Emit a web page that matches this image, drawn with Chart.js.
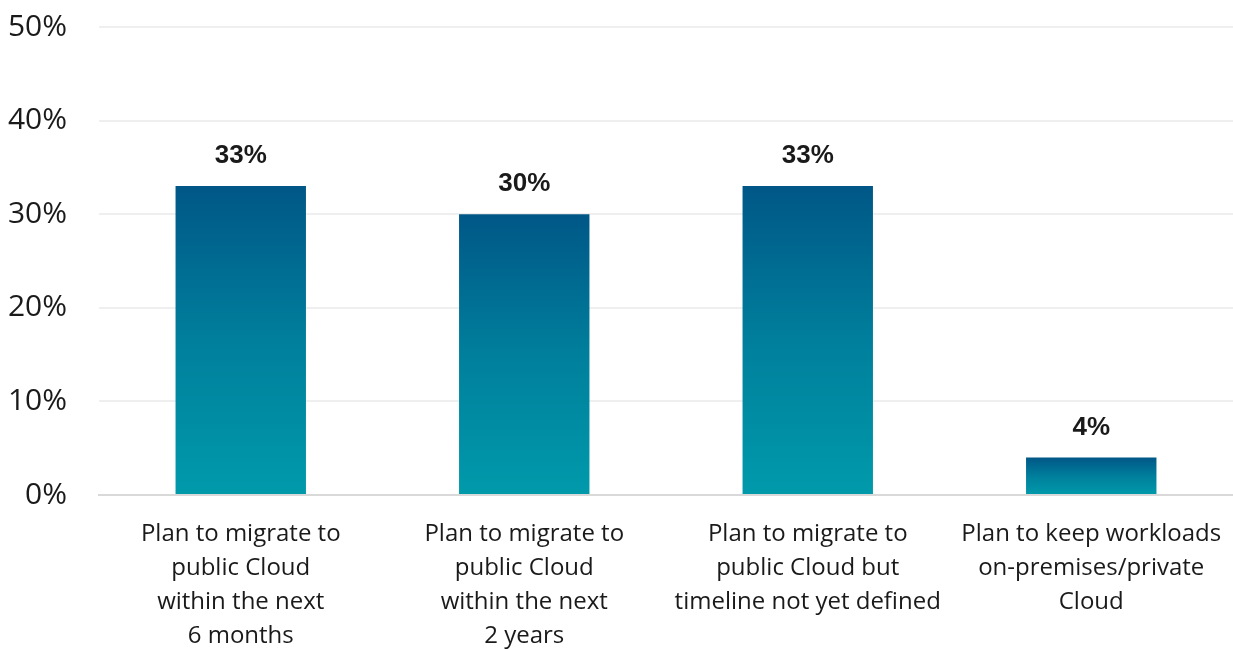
<!DOCTYPE html>
<html>
<head>
<meta charset="utf-8">
<script src="https://cdn.jsdelivr.net/npm/chart.js@4.4.1/dist/chart.umd.min.js"></script>
<style>
  html, body { margin: 0; padding: 0; background: #fff; }
  #wrap { width: 1233px; height: 649px; }
</style>
</head>
<body>
<div id="wrap"><canvas id="chart"></canvas></div>
<script>
const categories = [
  ["Plan to migrate to", "public Cloud", "within the next", "6 months"],
  ["Plan to migrate to", "public Cloud", "within the next", "2 years"],
  ["Plan to migrate to", "public Cloud but", "timeline not yet defined"],
  ["Plan to keep workloads", "on-premises/private", "Cloud"]
];
const shares = [33, 30, 33, 4];
const yTicks = [0, 10, 20, 30, 40, 50];

// each bar fades from dark blue at its top to teal at the base
function barGradient(context) {
  const chart = context.chart;
  if (!chart.chartArea || context.dataIndex === undefined) return '#0080a0';
  const y = chart.scales.y;
  const top = y.getPixelForValue(context.raw);
  const bottom = y.getPixelForValue(0);
  const g = chart.ctx.createLinearGradient(0, top, 0, bottom);
  g.addColorStop(0, '#005787');
  g.addColorStop(0.5, '#007f9c');
  g.addColorStop(1, '#009aab');
  return g;
}

// value labels above bars
const valueLabels = {
  id: 'valueLabels',
  afterDatasetsDraw(chart) {
    const ctx = chart.ctx;
    const meta = chart.getDatasetMeta(0);
    ctx.save();
    ctx.font = 'bold 26px "Liberation Sans", Arial, sans-serif';
    ctx.fillStyle = '#1a1a1a';
    ctx.textAlign = 'center';
    ctx.textBaseline = 'bottom';
    meta.data.forEach((bar, i) => {
      ctx.fillText(shares[i] + '%', bar.x, bar.y - 17);
    });
    ctx.restore();
  }
};

const ctx = document.getElementById('chart').getContext('2d');
new Chart(ctx, {
  type: 'bar',
  data: {
    labels: categories,
    datasets: [{
      data: shares,
      backgroundColor: barGradient,
      barPercentage: 0.46,
      categoryPercentage: 1
    }]
  },
  options: {
    responsive: true,
    maintainAspectRatio: false,
    animation: false,
    layout: { padding: { top: 27, right: 0, left: 0, bottom: 0 } },
    plugins: { legend: { display: false }, tooltip: { enabled: false } },
    scales: {
      x: {
        afterFit(axis) {
          axis.height = 154;
          axis.paddingLeft = 0;
          axis.paddingRight = 0;
        },
        grid: { display: false, drawTicks: false },
        border: { color: '#d9d9d9', width: 2 },
        ticks: {
          color: '#1a1a1a',
          padding: 22,
          maxRotation: 0,
          autoSkip: false,
          font: { family: '"Open Sans", sans-serif', size: 24, lineHeight: 1.42 }
        }
      },
      y: {
        min: 0,
        max: 50,
        afterFit(axis) {
          axis.width = 99;
          axis.paddingTop = 0;
          axis.paddingBottom = 0;
        },
        afterBuildTicks(axis) { axis.ticks = yTicks.map(v => ({ value: v })); },
        grid: { color: '#efefef', lineWidth: 2, drawTicks: false },
        border: { display: false },
        ticks: {
          color: '#1a1a1a',
          padding: 32,
          callback: v => v + '%',
          font: { family: '"Open Sans", sans-serif', size: 30 }
        }
      }
    }
  },
  plugins: [valueLabels]
});
</script>
</body>
</html>
